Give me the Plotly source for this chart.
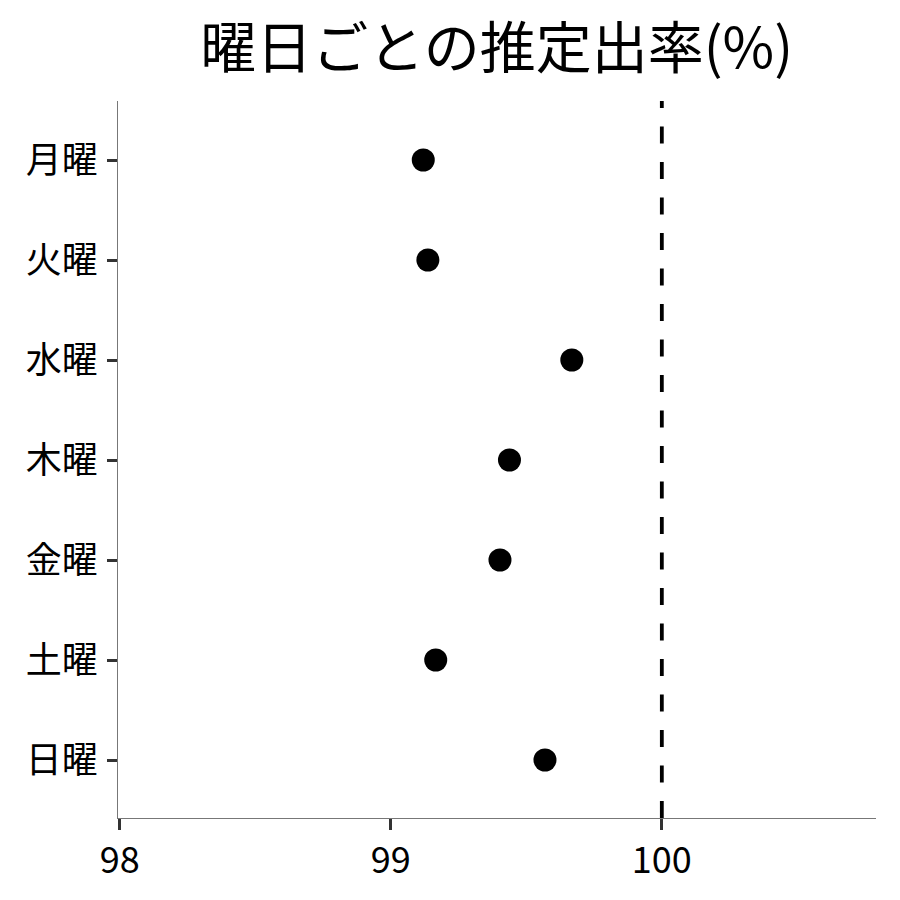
import plotly.graph_objects as go

days = ["月曜", "火曜", "水曜", "木曜", "金曜", "土曜", "日曜"]
rate = [99.12, 99.137, 99.668, 99.438, 99.403, 99.166, 99.569]
ref_value = 100
x_ticks = [98, 99, 100]

font = "Noto Sans CJK JP"

fig = go.Figure(
    go.Scatter(
        x=rate,
        y=days,
        mode="markers",
        marker=dict(color="black", size=23, line=dict(width=0)),
        showlegend=False,
    )
)

# reference line at 100%
fig.add_shape(
    type="line",
    xref="x", yref="paper",
    x0=ref_value, x1=ref_value, y0=0, y1=1,
    line=dict(color="black", width=3.8, dash="17px,18.5px"),
)

# page body has an 8px margin, so margins are shifted to compensate
fig.update_layout(
    width=900,
    height=900,
    margin=dict(l=110, r=32, t=93, b=90),
    paper_bgcolor="white",
    plot_bgcolor="white",
    font=dict(family=font, color="black", size=36),
    title=dict(
        text="曜日ごとの推定出率(%)",
        font=dict(family=font, size=56, color="black"),
        x=0.543, xanchor="center", y=0.955, yanchor="middle",
    ),
)

fig.update_xaxes(
    range=[97.994, 100.79],
    tickvals=x_ticks,
    ticks="outside", ticklen=11, tickwidth=3, tickcolor="#333",
    showline=True, linecolor="#777", linewidth=1.2,
    showgrid=False, zeroline=False,
    tickfont=dict(family=font, size=36, color="black"),
)
fig.update_yaxes(
    type="category",
    categoryorder="array", categoryarray=days,
    range=[6.58, -0.59],
    ticks="outside", ticklen=10, tickwidth=3, tickcolor="#333",
    showline=True, linecolor="#777", linewidth=1.2,
    showgrid=False, zeroline=False,
    ticklabelstandoff=2,
    tickfont=dict(family=font, size=36, color="black"),
)

fig.write_html("out.html")
